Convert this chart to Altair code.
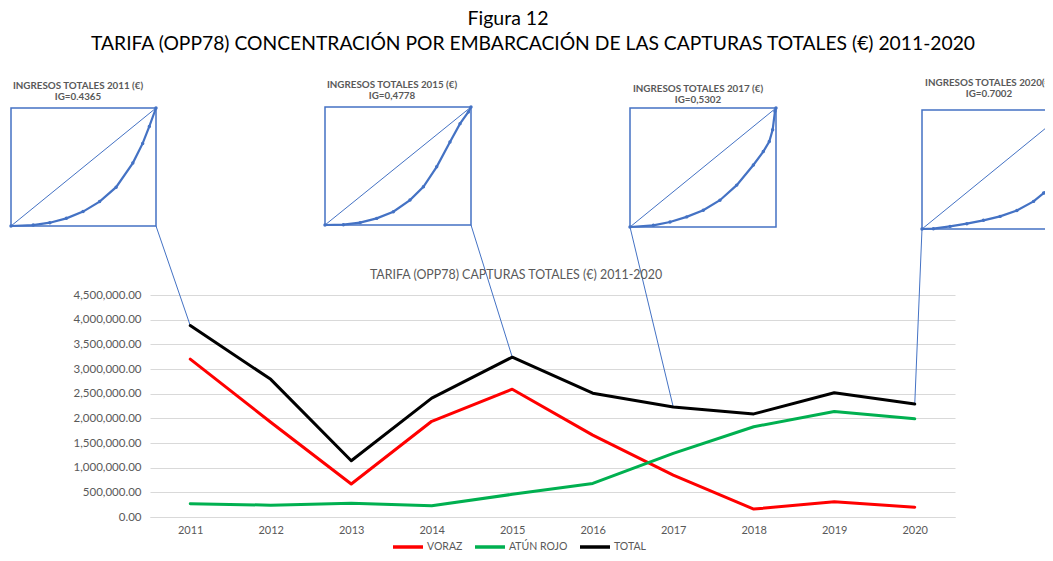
import altair as alt
import pandas as pd

# ---------------- data ----------------
YEARS = [2011, 2012, 2013, 2014, 2015, 2016, 2017, 2018, 2019, 2020]
SERIES = ["VORAZ", "ATÚN ROJO", "TOTAL"]
COLORS = ["#FF0000", "#00B050", "#000000"]
VORAZ = [3200000, 1920000, 670000, 1940000, 2590000, 1660000, 850000, 160000, 310000, 200000]
ATUN_ROJO = [270000, 240000, 280000, 230000, 460000, 680000, 1290000, 1830000, 2140000, 1990000]
TOTAL = [3880000, 2790000, 1140000, 2410000, 3240000, 2510000, 2230000, 2090000, 2520000, 2290000]
Y_TICKS = [0, 500000, 1000000, 1500000, 2000000, 2500000, 3000000, 3500000, 4000000, 4500000]

# Lorenz curves (cumulative share of boats, cumulative share of income)
LZ_2011_X = [0, 0.153, 0.268, 0.382, 0.497, 0.611, 0.725, 0.84, 0.908, 0.954, 1]
LZ_2011_Y = [0, 0.008, 0.028, 0.065, 0.122, 0.207, 0.329, 0.533, 0.70, 0.844, 1]
LZ_2015_X = [0, 0.126, 0.24, 0.354, 0.468, 0.582, 0.674, 0.765, 0.856, 0.925, 0.982, 1]
LZ_2015_Y = [0, 0.003, 0.02, 0.056, 0.113, 0.211, 0.324, 0.493, 0.704, 0.859, 0.958, 1]
LZ_2017_X = [0, 0.16, 0.274, 0.388, 0.502, 0.616, 0.731, 0.845, 0.913, 0.954, 0.977, 0.993, 1]
LZ_2017_Y = [0, 0.014, 0.042, 0.085, 0.141, 0.225, 0.352, 0.521, 0.634, 0.718, 0.817, 0.972, 1]
LZ_2020_X = [0, 0.078, 0.192, 0.307, 0.421, 0.535, 0.65, 0.764, 0.833, 0.902, 0.95, 0.98, 1]
LZ_2020_Y = [0, 0.003, 0.022, 0.045, 0.073, 0.106, 0.156, 0.232, 0.302, 0.363, 0.5, 0.65, 1]

INSET_YEARS = [2011, 2015, 2017, 2020]
INSET_TITLES = ["INGRESOS TOTALES 2011 (€)", "INGRESOS TOTALES 2015 (€)",
                "INGRESOS TOTALES 2017 (€)", "INGRESOS TOTALES 2020(€)"]
INSET_IG = ["IG=0.4365", "IG=0,4778", "IG=0,5302", "IG=0.7002"]
LZ_X = [LZ_2011_X, LZ_2015_X, LZ_2017_X, LZ_2020_X]
LZ_Y = [LZ_2011_Y, LZ_2015_Y, LZ_2017_Y, LZ_2020_Y]

# ---------------- layout (page pixels) ----------------
PLOT_L, PLOT_T, PLOT_W, PLOT_H = 150, 295, 805, 222
X_DOMAIN = [2010.5, 2020.5]
Y_DOMAIN = [0, 4500000]
BOX_L = [11, 325, 630, 922]
BOX_R = [156, 471, 776, 1068]
BOX_T = [108, 107, 108, 110]
BOX_B = [226, 225, 227, 229]
CORNER = ["R", "R", "L", "L"]
TITLE_X = [78, 392, 698, 989]
TITLE_Y = [86, 85, 89, 83]

FONT = "Lato"
GREY = "#595959"
BLUE = "#4472C4"


def px_to_x(px):
    return X_DOMAIN[0] + (px - PLOT_L) / PLOT_W * (X_DOMAIN[1] - X_DOMAIN[0])


def py_to_y(py):
    return Y_DOMAIN[0] + (PLOT_T + PLOT_H - py) / PLOT_H * (Y_DOMAIN[1] - Y_DOMAIN[0])


# ---------------- tables ----------------
long_rows = []
for name, vals in zip(SERIES, [VORAZ, ATUN_ROJO, TOTAL]):
    for yr, v in zip(YEARS, vals):
        long_rows.append({"year": yr, "value": v, "serie": name})
series_df = pd.DataFrame(long_rows)

box_rows, curve_rows, diag_rows, conn_rows, title_rows = [], [], [], [], []
for i, yr in enumerate(INSET_YEARS):
    x0, x1 = px_to_x(BOX_L[i]), px_to_x(BOX_R[i])
    y0, y1 = py_to_y(BOX_B[i]), py_to_y(BOX_T[i])
    box_rows.append({"inset": yr, "x0": x0, "x1": x1, "y0": y0, "y1": y1})
    for k, (fx, fy) in enumerate(zip(LZ_X[i], LZ_Y[i])):
        curve_rows.append({"inset": yr, "k": k, "x": x0 + fx * (x1 - x0), "y": y0 + fy * (y1 - y0)})
    diag_rows.append({"inset": yr, "xa": x0, "ya": y0, "xb": x1, "yb": y1})
    cx = x1 if CORNER[i] == "R" else x0
    tot = TOTAL[YEARS.index(yr)]
    conn_rows.append({"inset": yr, "xa": cx, "ya": y0, "xb": float(yr), "yb": tot})
    title_rows.append({"inset": yr, "x": px_to_x(TITLE_X[i]), "y": py_to_y(TITLE_Y[i]),
                       "t": INSET_TITLES[i]})
    title_rows.append({"inset": yr, "x": px_to_x(TITLE_X[i]), "y": py_to_y(TITLE_Y[i] + 11),
                       "t": INSET_IG[i]})

box_df = pd.DataFrame(box_rows)
curve_df = pd.DataFrame(curve_rows)
diag_df = pd.DataFrame(diag_rows)
conn_df = pd.DataFrame(conn_rows)
title_df = pd.DataFrame(title_rows)

xs = alt.Scale(domain=X_DOMAIN, nice=False, zero=False)
ys = alt.Scale(domain=Y_DOMAIN, nice=False)

x_axis = alt.Axis(values=YEARS, format="d", title=None, ticks=False, grid=False,
                  labelFont=FONT, labelFontSize=11, labelColor=GREY, labelPadding=7,
                  domainColor="#D9D9D9", domainWidth=1.2, labelOverlap=False)
y_axis = alt.Axis(values=Y_TICKS, format=",.2f", title=None, ticks=False, domain=False,
                  labelFont=FONT, labelFontSize=11.5, labelColor=GREY, labelPadding=9,
                  gridColor="#D9D9D9", gridWidth=1, labelOverlap=False)


def X(field):
    return alt.X(field, type="quantitative", scale=xs, axis=x_axis)


def Y(field):
    return alt.Y(field, type="quantitative", scale=ys, axis=y_axis)


lines = alt.Chart(series_df).mark_line(strokeWidth=3, strokeJoin="round", strokeCap="round").encode(
    x=X("year"),
    y=Y("value"),
    color=alt.Color("serie:N", scale=alt.Scale(domain=SERIES, range=COLORS),
                    legend=alt.Legend(title=None, orient="none", direction="horizontal",
                                      legendX=241, legendY=235, symbolType="stroke",
                                      symbolSize=900, symbolStrokeWidth=3.5,
                                      labelFont=FONT, labelFontSize=10.5, labelColor=GREY,
                                      columnPadding=5, labelOffset=2, padding=0)),
    detail="serie:N",
)

boxes = alt.Chart(box_df).mark_rect(fillOpacity=0, stroke=BLUE, strokeWidth=1.5).encode(
    x=X("x0"), x2="x1:Q", y=Y("y0"), y2="y1:Q")

diags = alt.Chart(diag_df).mark_rule(color=BLUE, strokeWidth=1).encode(
    x=X("xa"), x2="xb:Q", y=Y("ya"), y2="yb:Q")

curves = alt.Chart(curve_df).mark_line(color=BLUE, strokeWidth=2.2).encode(
    x=X("x"), y=Y("y"), detail="inset:N", order="k:Q")

curve_pts = alt.Chart(curve_df).mark_point(color=BLUE, filled=True, size=12, opacity=1).encode(
    x=X("x"), y=Y("y"))

conns = alt.Chart(conn_df).mark_rule(color=BLUE, strokeWidth=1).encode(
    x=X("xa"), x2="xb:Q", y=Y("ya"), y2="yb:Q")

inset_titles = alt.Chart(title_df).mark_text(font=FONT, fontSize=9.8, fontWeight="bold",
                                             color=GREY, align="center", baseline="middle").encode(
    x=X("x"), y=Y("y"), text="t:N")

fig_title = alt.Chart(pd.DataFrame({"t": ["Figura 12"]})).mark_text(
    font=FONT, fontSize=19.5, color="#000000", align="center", baseline="middle").encode(
    x=alt.value(508 - PLOT_L), y=alt.value(19 - PLOT_T), text="t:N")

fig_sub = alt.Chart(pd.DataFrame({"t": ["TARIFA (OPP78) CONCENTRACIÓN POR EMBARCACIÓN DE LAS CAPTURAS TOTALES (€) 2011-2020"]})).mark_text(
    font=FONT, fontSize=19.3, color="#000000", align="center", baseline="middle").encode(
    x=alt.value(533 - PLOT_L), y=alt.value(44 - PLOT_T), text="t:N")

chart_title = alt.Chart(pd.DataFrame({"t": ["TARIFA (OPP78) CAPTURAS TOTALES (€) 2011-2020"]})).mark_text(
    font=FONT, fontSize=12.4, color=GREY, align="center", baseline="middle").encode(
    x=alt.value(516 - PLOT_L), y=alt.value(275 - PLOT_T), text="t:N")

chart = alt.layer(
    boxes, diags, curves, curve_pts, inset_titles, conns, lines,
    fig_title, fig_sub, chart_title,
).properties(
    width=PLOT_W, height=PLOT_H,
    autosize=alt.AutoSizeParams(type="none"),
    padding={"left": PLOT_L - 8, "top": PLOT_T - 8, "right": 1037 - (PLOT_L - 8) - PLOT_W,
             "bottom": 545 - (PLOT_T - 8) - PLOT_H},
).configure_view(stroke=None)

chart.save("out.html", embed_options={"renderer": "svg", "actions": False})
